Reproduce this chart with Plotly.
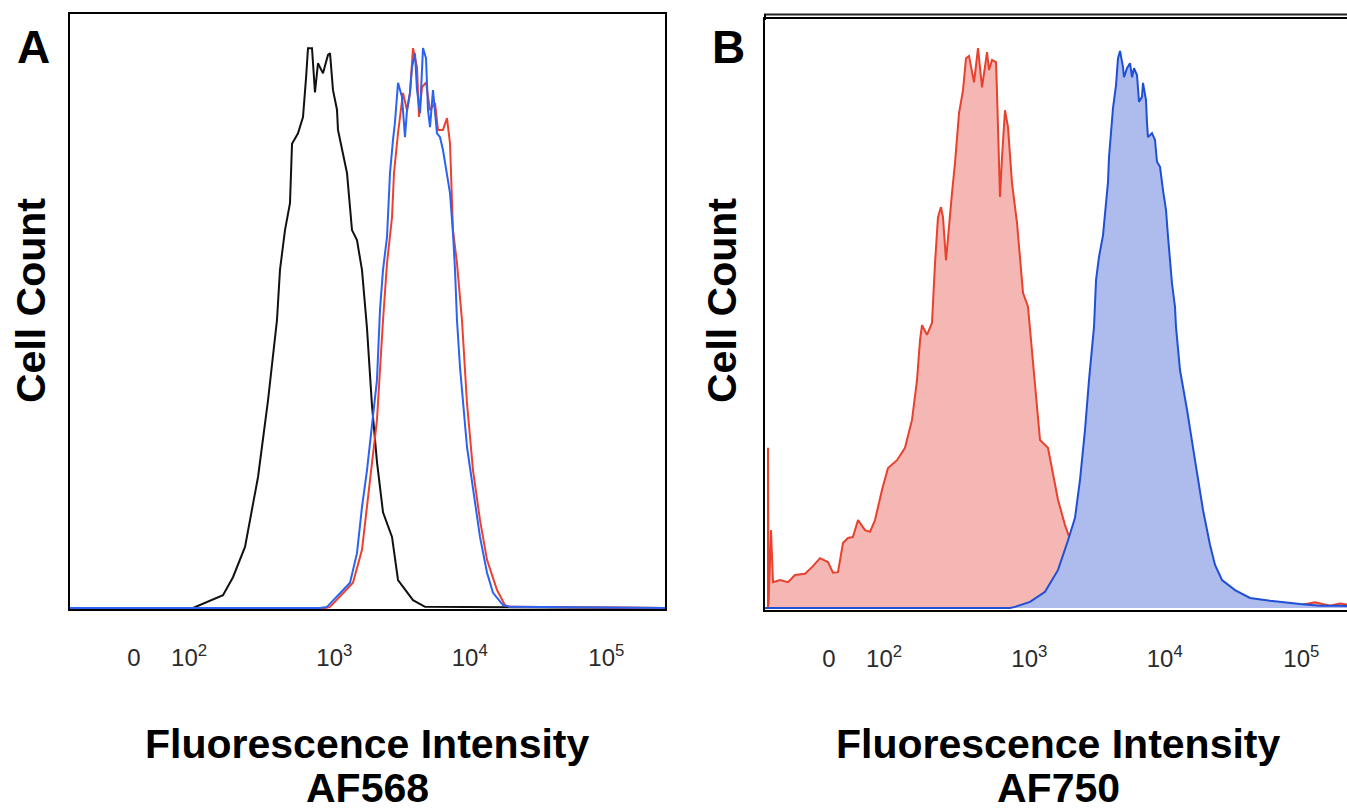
import plotly.graph_objects as go

# ---------------- Data (x: channel units 0-1024, y: % of max count) -------------
# Panel A : AF568
a_black_x = [0, 211.7, 263.3, 280.5, 301.2, 323.6, 340.8, 356.2, 361.4, 370.0, 378.6, 382.1,
             392.4, 401.0, 406.2, 409.6, 416.5, 418.2, 421.6, 426.8, 435.4, 444.0, 447.5, 452.6,
             459.5, 461.2, 469.8, 476.7, 485.3, 493.9, 502.5, 507.7, 511.1, 519.7, 528.3, 538.7,
             554.2, 564.5, 590.3, 611.0, 1024]
a_black_y = [0, 0, 2.3, 5.5, 10.9, 23.4, 37.1, 51.4, 60.4, 67.5, 72.3, 82.9,
             84.8, 87.7, 94.6, 100, 100, 97.3, 92.1, 97.3, 95.5, 98.8, 99.1, 92.5,
             89.0, 85.4, 81.4, 77.7, 67.5, 65.7, 60.4, 54.6, 50.0, 36.2, 26.1, 17.1,
             12.7, 5.0, 1.4, 0.2, 0]

a_red_x = [0, 440.0, 447.5, 469.8, 487.0, 502.5, 511.1, 519.7, 528.3, 538.7, 545.6, 554.2, 557.6,
           564.5, 571.4, 573.1, 580.0, 585.1, 590.3, 597.2, 600.6, 605.8, 612.7, 619.6,
           628.2, 633.3, 641.9, 648.8, 654.0, 657.4, 659.1, 666.0, 674.6, 683.2, 693.6,
           705.6, 717.7, 734.9, 748.6, 757.2, 1024]
a_red_y = [0, 0, 0.2, 2.7, 4.5, 10.4, 18.0, 25.2, 33.6, 51.4, 61.6, 69.8, 77.7,
           84.8, 90.2, 92.0, 88.9, 92.0, 100, 96.6, 87.7, 93.0, 93.9, 88.9,
           90.2, 85.4, 85.4, 87.5, 83.0, 74.6, 67.5, 61.6, 51.4, 36.6, 24.6,
           15.7, 8.6, 3.2, 0.5, 0.2, 0]

a_blue_x = [0, 430.0, 442.3, 459.5, 481.9, 493.9, 502.5, 511.1, 519.7, 528.3, 533.5, 538.7, 545.6,
            550.7, 555.9, 559.3, 564.5, 571.4, 576.5, 580.0, 585.1, 588.6, 593.7, 597.2,
            602.4, 607.5, 612.7, 616.1, 619.6, 624.7, 631.6, 636.8, 641.9, 648.8, 654.0,
            659.1, 662.6, 666.0, 671.2, 683.2, 693.6, 705.6, 717.7, 728.0, 745.2, 757.2, 1024]
a_blue_y = [0, 0, 0.2, 2.0, 4.5, 9.8, 18.0, 24.6, 32.3, 40.7, 53.2, 60.4, 66.3,
            77.7, 83.6, 86.8, 93.8, 91.3, 84.1, 88.9, 92.0, 96.6, 99.1, 92.5,
            88.4, 100, 98.2, 88.9, 85.9, 92.5, 84.8, 84.1, 81.8, 77.7, 74.1,
            67.0, 60.4, 51.4, 43.0, 28.8, 21.6, 12.7, 6.3, 2.7, 0.5, 0.2, 0]

# Panel B : AF750
b_red_x = [5.2, 5.2, 6.0, 10.3, 13.8, 25.8, 39.6, 51.6, 68.8, 80.9, 94.7, 108.4, 117.0, 125.6,
           134.2, 142.8, 151.4, 160.1, 172.1, 180.7, 189.3, 201.4, 211.7, 227.2, 240.9,
           253.0, 261.6, 266.8, 270.2, 278.8, 287.4, 292.6, 297.7, 302.9, 306.3, 311.5,
           314.9, 321.8, 327.0, 330.4, 333.9, 340.8, 345.9, 351.1, 359.7, 366.6, 373.5,
           382.1, 385.5, 390.7, 397.6, 399.3, 402.7, 404.4, 407.9, 413.0, 418.2, 425.1,
           433.7, 438.9, 444.0, 452.6, 456.1, 464.7, 473.3, 487.0, 493.9, 504.3, 516.3,
           528.3, 542.1, 559.3, 576.5, 602.4, 645.4, 834.7, 920.7, 946.6, 972.4, 989.6, 1010]
b_red_y = [0, 28.6, 0.5, 13.9, 4.6, 5.0, 4.6, 5.9, 6.1, 7.3, 8.9, 8.2, 6.3, 6.4,
           11.6, 12.5, 12.7, 15.7, 13.9, 13.6, 15.7, 21.1, 25.0, 26.4, 28.6,
           33.6, 40.7, 47.9, 50.5, 48.8, 50.9, 61.6, 69.8, 71.6, 69.8, 62.1,
           66.3, 74.1, 79.5, 84.8, 88.4, 92.5, 98.2, 98.6, 93.9, 100, 93.0,
           99.3, 96.1, 97.9, 97.5, 92.0, 79.5, 73.4, 80.5, 88.9, 85.9, 75.9,
           68.8, 61.6, 56.3, 53.8, 49.6, 38.9, 30.0, 28.6, 24.6, 19.3, 14.8,
           11.3, 7.7, 4.1, 1.8, 0.5, 0.2, 0.3, 0.5, 1.0, 0.4, 0.8, 0.5]

b_blue_x = [0, 421.6, 430.3, 456.1, 481.9, 504.3, 521.5, 533.5, 542.1, 550.7, 557.6, 566.2, 569.7,
            574.8, 581.7, 585.1, 590.3, 592.0, 595.5, 598.9, 604.1, 607.5, 611.0, 616.1,
            617.8, 623.0, 628.2, 631.6, 635.0, 640.2, 643.7, 648.8, 650.5, 655.7, 657.4,
            659.1, 666.0, 671.2, 674.6, 679.8, 685.0, 690.1, 693.6, 700.4, 705.6, 707.3,
            714.2, 726.3, 740.0, 753.8, 765.8, 774.5, 786.5, 808.9, 834.7, 869.1, 920.7,
            955.2, 989.6, 1010]
b_blue_y = [0, 0, 0.2, 1.1, 2.9, 6.8, 12.1, 16.1, 22.9, 31.8, 40.7, 50.2, 58.6,
            62.7, 66.6, 70.7, 76.1, 80.5, 85.4, 89.3, 93.4, 98.2, 99.5, 96.6,
            94.8, 96.4, 97.3, 94.8, 96.4, 95.2, 90.4, 91.3, 93.8, 90.7, 86.6,
            84.1, 84.8, 83.6, 79.7, 78.8, 74.6, 71.1, 66.3, 58.0, 53.8, 50.2,
            42.5, 35.4, 26.4, 17.5, 11.3, 7.7, 5.0, 3.2, 1.8, 1.3, 0.7,
            0.4, 0.4, 0.3]

tick_vals = [110, 205, 455, 688, 923]
tick_text = ["0", "10<sup>2</sup>", "10<sup>3</sup>", "10<sup>4</sup>", "10<sup>5</sup>"]

# ---------------- Figure ----------------
W, H = 1347, 808
fig = go.Figure()

fig.add_trace(go.Scatter(x=a_black_x, y=a_black_y, mode="lines",
                         line=dict(color="#111111", width=2), xaxis="x", yaxis="y"))
fig.add_trace(go.Scatter(x=a_red_x, y=a_red_y, mode="lines",
                         line=dict(color="#f0402c", width=2), xaxis="x", yaxis="y"))
fig.add_trace(go.Scatter(x=a_blue_x, y=a_blue_y, mode="lines",
                         line=dict(color="#2a62f2", width=2), xaxis="x", yaxis="y"))

fig.add_trace(go.Scatter(x=b_red_x, y=b_red_y, mode="lines", fill="tozeroy",
                         fillcolor="#f5b7b4", line=dict(color="#e8412e", width=2),
                         xaxis="x2", yaxis="y2"))
fig.add_trace(go.Scatter(x=b_blue_x, y=b_blue_y, mode="lines", fill="tozeroy",
                         fillcolor="#aebbed", line=dict(color="#1f4fd6", width=2),
                         xaxis="x2", yaxis="y2"))

def px_x(p):
    return p / W

def px_y(p):
    return 1 - p / H

tick_font = dict(family="Liberation Sans Narrow, Arial Narrow, sans-serif", size=24, color="#2a2a2a")
axis_common = dict(showgrid=False, zeroline=False, showline=True, linecolor="black",
                   linewidth=2, ticks="", fixedrange=True)

fig.update_layout(
    width=W, height=H, margin=dict(l=0, r=0, t=0, b=0),
    paper_bgcolor="white", plot_bgcolor="white", showlegend=False,
    xaxis=dict(domain=[px_x(70), px_x(665)], range=[0, 1024], anchor="y", mirror=True,
               tickvals=tick_vals, ticktext=tick_text, tickfont=tick_font,
               ticklabelstandoff=26, **axis_common),
    yaxis=dict(domain=[px_y(609), px_y(14)], range=[-0.18, 106.1], anchor="x", mirror=True,
               showticklabels=False, **axis_common),
    xaxis2=dict(domain=[px_x(765), 1.0], range=[0, 1001.6], anchor="y2", mirror=True,
                tickvals=tick_vals, ticktext=tick_text, tickfont=tick_font,
                ticklabelstandoff=26, **axis_common),
    yaxis2=dict(domain=[px_y(610), px_y(19)], range=[-0.36, 105.2], anchor="x2", mirror=False,
                showticklabels=False, **axis_common),
)

# double top border of panel B
fig.add_shape(type="line", xref="paper", yref="paper", x0=px_x(764), x1=1.0,
              y0=px_y(14.5), y1=px_y(14.5), line=dict(color="#222222", width=2))
fig.add_shape(type="line", xref="paper", yref="paper", x0=px_x(765), x1=px_x(765),
              y0=px_y(14), y1=px_y(20), line=dict(color="black", width=2))

title_font = dict(family="Liberation Sans, Arial, sans-serif", size=41, color="black")
letter_font = dict(family="Liberation Sans, Arial, sans-serif", size=46, color="black")

def ann(text, x, y, font, angle=0):
    fig.add_annotation(text=text, xref="paper", yref="paper", x=px_x(x), y=px_y(y),
                       xanchor="center", yanchor="middle", showarrow=False,
                       font=font, textangle=angle)

ann("<b>A</b>", 33, 47, letter_font)
ann("<b>B</b>", 728, 47, letter_font)
ann("<b>Cell Count</b>", 31, 301, title_font, -90)
ann("<b>Cell Count</b>", 722, 301, title_font, -90)
ann("<b>Fluorescence Intensity</b>", 367, 744, title_font)
ann("<b>AF568</b>", 367, 788, title_font)
ann("<b>Fluorescence Intensity</b>", 1058, 744, title_font)
ann("<b>AF750</b>", 1058, 788, title_font)

fig.write_html("out.html", config={"displayModeBar": False},
               post_script="document.body.style.margin='0';document.body.style.overflow='hidden';")
